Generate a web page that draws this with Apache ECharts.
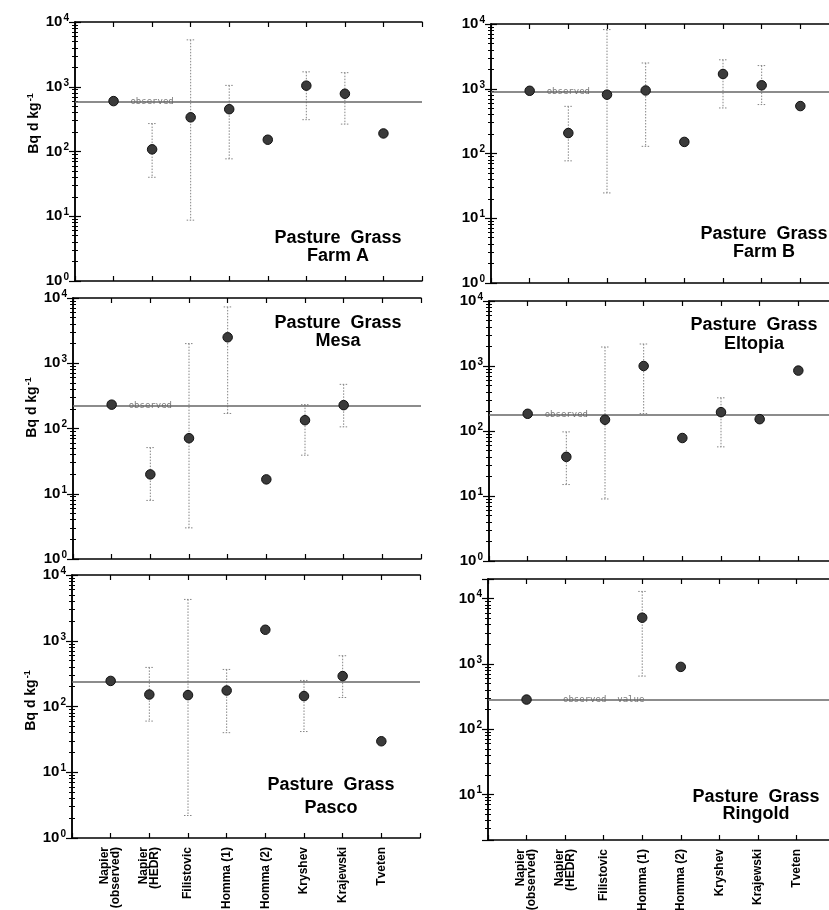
<!DOCTYPE html>
<html>
<head>
<meta charset="utf-8">
<style>
  html, body { margin: 0; padding: 0; background: #fff; }
  #main { width: 829px; height: 910px; }
</style>
</head>
<body>
<div id="main"></div>
<script src="https://cdn.jsdelivr.net/npm/echarts@6/dist/echarts.min.js"></script>
<script>
// models along the x axis (drawn at positions 1..8)
var models = ['Napier\n(observed)', 'Napier\n(HEDR)', 'Filistovic', 'Homma (1)', 'Homma (2)', 'Kryshev', 'Krajewski', 'Tveten'];

// predictions, Bq d kg-1 (null = no value); low/high = error bar ends
var farmA      = [600, 108, 337, 450, 152, 1040, 780, 190];
var farmALow   = [null, 40, 8.7, 77, null, 310, 265, null];
var farmAHigh  = [null, 270, 5300, 1050, null, 1700, 1650, null];
var farmAObs   = 590;

var farmB      = [930, 207, 810, 940, 151, 1690, 1130, 540];
var farmBLow   = [null, 77, 24.6, 129, null, 505, 570, null];
var farmBHigh  = [null, 535, 8200, 2500, null, 2800, 2280, null];
var farmBObs   = 910;

var mesa       = [232, 19.8, 71, 2500, 16.6, 134, 228, null];
var mesaLow    = [null, 7.9, 3.0, 170, null, 39, 106, null];
var mesaHigh   = [null, 51, 2000, 7300, null, 232, 475, null];
var mesaObs    = 222;

var eltopia     = [184, 40, 149, 1000, 78, 195, 152, 850];
var eltopiaLow  = [null, 15, 9.0, 186, null, 57, null, null];
var eltopiaHigh = [null, 97, 1960, 2180, null, 324, null, null];
var eltopiaObs  = 176;

var pasco      = [245, 152, 149, 175, 1470, 144, 290, 29.6];
var pascoLow   = [null, 60, 2.2, 40, null, 41.6, 137, null];
var pascoHigh  = [null, 393, 4250, 366, null, 249, 592, null];
var pascoObs   = 240;

var ringold     = [284, null, null, 5100, 900, null, null, null];
var ringoldLow  = [null, null, null, 650, null, null, null, null];
var ringoldHigh = [null, null, null, 12900, null, null, null, null];
var ringoldObs  = 280;

var panels = [
  { title: 'Pasture  Grass\nFarm A', mean: farmA, low: farmALow, high: farmAHigh, obs: farmAObs, obsText: 'observed', obsAt: 2, min: 1, max: 10000 },
  { title: 'Pasture  Grass\nFarm B', mean: farmB, low: farmBLow, high: farmBHigh, obs: farmBObs, obsText: 'observed', obsAt: 2, min: 1, max: 10000 },
  { title: 'Pasture  Grass\nMesa', mean: mesa, low: mesaLow, high: mesaHigh, obs: mesaObs, obsText: 'observed', obsAt: 2, min: 1, max: 10000 },
  { title: 'Pasture  Grass\nEltopia', mean: eltopia, low: eltopiaLow, high: eltopiaHigh, obs: eltopiaObs, obsText: 'observed', obsAt: 2, min: 1, max: 10000 },
  { title: 'Pasture  Grass\nPasco', mean: pasco, low: pascoLow, high: pascoHigh, obs: pascoObs, obsText: null, obsAt: 2, min: 1, max: 10000 },
  { title: 'Pasture  Grass\nRingold', mean: ringold, low: ringoldLow, high: ringoldHigh, obs: ringoldObs, obsText: 'observed  value', obsAt: 3, min: 2, max: 20000 }
];

// pixel layout of the six boxes, their titles and the y-name shift
var layout = [
  { left: 75, top: 22, width: 347, height: 259, tx: 338, ty: 229, lh: 18, nameShift: 56 },
  { left: 491, top: 24, width: 348, height: 259, tx: 764, ty: 225, lh: 18, nameShift: 0 },
  { left: 73, top: 298, width: 348, height: 261, tx: 338, ty: 314, lh: 18, nameShift: 42 },
  { left: 489, top: 301, width: 348, height: 260, tx: 754, ty: 316, lh: 19, nameShift: 0 },
  { left: 72, top: 575, width: 348, height: 263, tx: 331, ty: 774, lh: 23, nameShift: 12 },
  { left: 488, top: 579, width: 347, height: 261, tx: 756, ty: 789, lh: 17, nameShift: 0 }
];

var FONT = 'Liberation Sans, Arial, sans-serif';
var axisLine = { show: true, lineStyle: { color: '#000', width: 1.5 } };

function decadeLabel(v) {
  var e = Math.log10(v);
  if (Math.abs(e - Math.round(e)) > 1e-6) return '';
  return '{b|10}{s|' + Math.round(e) + '}';
}

function errorBar(params, api) {
  var top = api.coord([api.value(0), api.value(2)]);
  var bot = api.coord([api.value(0), api.value(1)]);
  var w = 4;
  var style = { stroke: '#858585', lineWidth: 1, lineDash: [1.5, 1.5] };
  return {
    type: 'group',
    children: [
      { type: 'line', shape: { x1: top[0], y1: top[1], x2: bot[0], y2: bot[1] }, style: style },
      { type: 'line', shape: { x1: top[0] - w, y1: top[1], x2: top[0] + w, y2: top[1] }, style: style },
      { type: 'line', shape: { x1: bot[0] - w, y1: bot[1], x2: bot[0] + w, y2: bot[1] }, style: style }
    ]
  };
}

var grid = [], xAxis = [], yAxis = [], series = [], title = [];

panels.forEach(function (p, i) {
  var L = layout[i];
  var isLeft = i % 2 === 0;
  var isBottom = i >= 4;
  grid.push({ left: L.left, top: L.top, width: L.width, height: L.height, containLabel: false, outerBoundsMode: 'none' });

  title.push({
    text: p.title, left: L.tx, top: L.ty, textAlign: 'center', padding: 0,
    textStyle: { fontFamily: FONT, fontSize: 18, fontWeight: 'bold', color: '#000', lineHeight: L.lh }
  });

  xAxis.push({
    type: 'value', gridIndex: i, position: 'bottom', min: 0, max: 9, interval: 1,
    axisLine: axisLine, splitLine: { show: false },
    axisTick: { show: true, inside: true, length: 5, lineStyle: { color: '#000', width: 1.2 } },
    axisLabel: {
      show: isBottom, rotate: 90, margin: 9, fontFamily: FONT, fontSize: 12, fontWeight: 'bold',
      lineHeight: 11, color: '#000',
      formatter: function (v) { return models[v - 1] || ''; }
    }
  });
  xAxis.push({
    type: 'value', gridIndex: i, position: 'top', min: 0, max: 9, interval: 1,
    axisLine: axisLine, splitLine: { show: false }, axisLabel: { show: false },
    axisTick: { show: true, inside: true, length: 5, lineStyle: { color: '#000', width: 1.2 } }
  });

  var yBase = {
    type: 'log', logBase: 10, gridIndex: i, min: p.min, max: p.max,
    axisLine: axisLine, splitLine: { show: false }, minorSplitLine: { show: false },
    axisTick: { show: true, inside: true, length: 6, lineStyle: { color: '#000', width: 1.2 } },
    minorTick: { show: true, splitNumber: 9, length: 3, lineStyle: { color: '#000', width: 1 } }
  };
  yAxis.push(Object.assign({}, yBase, {
    position: 'left',
    axisLabel: {
      show: true, margin: 6, formatter: decadeLabel,
      rich: {
        b: { fontFamily: FONT, fontSize: 15, fontWeight: 'bold', color: '#000' },
        s: { fontFamily: FONT, fontSize: 10, fontWeight: 'bold', color: '#000', padding: [0, 0, 8, 1] }
      }
    },
    name: isLeft ? '{n|Bq d kg}{s|-1}' : '',
    nameLocation: 'middle', nameGap: 32, nameRotate: 90,
    nameTextStyle: {
      padding: [0, 0, 0, L.nameShift],
      rich: {
        n: { fontFamily: FONT, fontSize: 14, fontWeight: 'bold', color: '#000' },
        s: { fontFamily: FONT, fontSize: 9, fontWeight: 'bold', color: '#000', padding: [0, 0, 8, 1] }
      }
    }
  }));
  yAxis.push(Object.assign({}, yBase, { position: 'right', axisLabel: { show: false } }));

  var bars = [];
  p.low.forEach(function (lo, k) { if (lo != null) bars.push([k + 1, lo, p.high[k]]); });
  var pts = [];
  p.mean.forEach(function (v, k) { if (v != null) pts.push([k + 1, v]); });

  series.push({
    type: 'custom', xAxisIndex: 2 * i, yAxisIndex: 2 * i, z: 2,
    renderItem: errorBar, encode: { x: 0, y: [1, 2] }, data: bars, silent: true,
    markLine: {
      silent: true, symbol: ['none', 'none'],
      label: { show: false },
      lineStyle: { color: '#666', width: 1.7, type: 'solid' },
      data: [{ yAxis: p.obs }]
    }
  });
  if (p.obsText) {
    series.push({
      type: 'scatter', xAxisIndex: 2 * i, yAxisIndex: 2 * i, z: 3, silent: true,
      symbolSize: 0, data: [[p.obsAt, p.obs]],
      label: {
        show: true, position: 'inside', formatter: p.obsText,
        fontFamily: 'DejaVu Sans Mono, monospace', fontSize: 9, color: '#555',
        backgroundColor: '#fff', padding: [0, 2]
      }
    });
  }
  series.push({
    type: 'scatter', xAxisIndex: 2 * i, yAxisIndex: 2 * i, z: 5, silent: true,
    symbol: 'circle', symbolSize: 9.5, data: pts,
    itemStyle: { color: '#3a3a3a', borderColor: '#111', borderWidth: 1, opacity: 1 }
  });
});

var chart = echarts.init(document.getElementById('main'), null, { renderer: 'canvas' });
chart.setOption({
  backgroundColor: '#fff',
  animation: false,
  title: title,
  grid: grid,
  xAxis: xAxis,
  yAxis: yAxis,
  series: series
});
</script>
</body>
</html>
